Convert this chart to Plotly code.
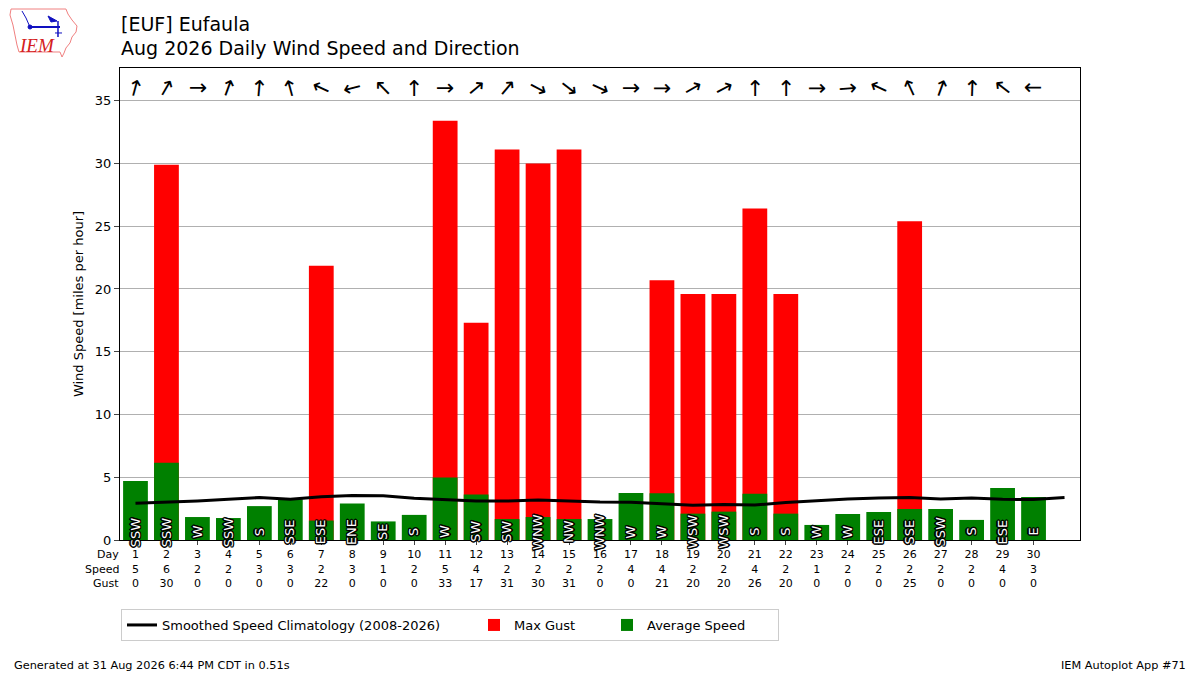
import plotly.graph_objects as go

# daily values
days = list(range(1, 31))
avg_speed = [4.7, 6.15, 1.83, 1.75, 2.7, 3.24, 1.55, 2.9, 1.48, 2.0,
             4.97, 3.62, 1.67, 1.83, 1.67, 1.67, 3.75, 3.72, 2.1, 2.26,
             3.69, 2.1, 1.2, 2.07, 2.23, 2.47, 2.47, 1.6, 4.15, 3.43]
max_gust = [0, 29.9, 0, 0, 0, 0, 21.85, 0, 0, 0,
            33.4, 17.3, 31.1, 30.0, 31.1, 0, 0, 20.7, 19.6, 19.6,
            26.4, 19.6, 0, 0, 0, 25.4, 0, 0, 0, 0]
wind_dir = [195, 210, 270, 200, 185, 165, 115, 75, 135, 180,
            270, 230, 220, 298, 308, 295, 270, 270, 240, 242,
            180, 180, 270, 265, 115, 155, 200, 182, 128, 90]
compass = ["SSW", "SSW", "W", "SSW", "S", "SSE", "ESE", "ENE", "SE", "S",
           "W", "SW", "SW", "WNW", "NW", "WNW", "W", "W", "WSW", "WSW",
           "S", "S", "W", "W", "ESE", "SSE", "SSW", "S", "ESE", "E"]

# smoothed climatology, one value per day of month
clim_days = list(range(1, 32))
clim_speed = [2.92, 3.0, 3.11, 3.24, 3.38, 3.25, 3.45, 3.55, 3.52, 3.33,
              3.22, 3.11, 3.11, 3.18, 3.11, 3.02, 3.0, 2.9, 2.76, 2.82,
              2.79, 2.98, 3.15, 3.27, 3.35, 3.38, 3.27, 3.35, 3.24, 3.22, 3.38]

FONT = "DejaVu Sans"
L, R, T, B = 120, 120, 68, 135
W, H = 1200, 675
PW, PH = W - L - R, H - T - B


def px2paper(x, y):
    # pixel position on the page -> paper coords
    return (x - L) / PW, (H - B - y) / PH


def path_from(points, close=True):
    parts = []
    for i, (x, y) in enumerate(points):
        px, py = px2paper(x, y)
        parts.append(("M" if i == 0 else "L") + f"{px:.4f},{py:.4f}")
    return " ".join(parts) + (" Z" if close else "")


def note(x, y, text, size, anchor="center", **kw):
    ax, ay = px2paper(x, y)
    return dict(x=ax, y=ay, xref="paper", yref="paper", text=text, showarrow=False,
                xanchor=anchor, yanchor="middle",
                font=dict(family=kw.pop("family", FONT), size=size,
                          color=kw.pop("color", "black")), **kw)


fig = go.Figure()

fig.add_trace(go.Bar(x=days, y=max_gust, name="Max Gust", marker_color="#ff0000",
                     marker_line_width=0, width=0.8, legendrank=2, legendwidth=88))
fig.add_trace(go.Bar(x=days, y=avg_speed, name="Average Speed", marker_color="#008000",
                     marker_line_width=0, width=0.8, legendrank=3, legendwidth=126))
fig.add_trace(go.Scatter(x=clim_days, y=clim_speed, mode="lines",
                         name="Smoothed Speed Climatology (2008-2026)",
                         line=dict(color="black", width=3), legendrank=1, legendwidth=307))

# tick labels: day / speed / gust
ticktext = [f"{d}<br>{int(round(s))}<br>{int(round(g))}"
            for d, s, g in zip(days, avg_speed, max_gust)]

annotations = []
# direction arrows across the top
for d, wd in zip(days, wind_dir):
    annotations.append(dict(x=d, y=36.0, xref="x", yref="y", text="↑", showarrow=False,
                            xanchor="center", yanchor="middle",
                            textangle=(wd + 180) % 360,
                            font=dict(family=FONT, size=22, color="black")))
# compass labels inside the bars
outline = ("-1px -1px 0 #000, 1px -1px 0 #000, -1px 1px 0 #000, 1px 1px 0 #000, "
           "0 1.5px 0 #000, 0 -1.5px 0 #000, 1.5px 0 0 #000, -1.5px 0 0 #000")
for d, c in zip(days, compass):
    annotations.append(dict(x=d, y=0.65, xref="x", yref="y", text=c, showarrow=False,
                            xanchor="center", yanchor="middle", textangle=-90,
                            font=dict(family=FONT, size=13, color="white", shadow=outline)))
# row names for the tick table
for label, py in [("Day", 554), ("Speed", 569), ("Gust", 583)]:
    annotations.append(note(121, py, label, 11, anchor="right"))
# titles
annotations.append(note(119, 24, "[EUF] Eufaula", 19, anchor="left"))
annotations.append(note(119, 48, "Aug 2026 Daily Wind Speed and Direction", 19, anchor="left"))
# footer
annotations.append(note(12, 665, "Generated at 31 Aug 2026 6:44 PM CDT in 0.51s", 11.3,
                        anchor="left"))
annotations.append(note(1188, 665, "IEM Autoplot App #71", 11.3, anchor="right"))
# logo text
annotations.append(note(37, 45, "<i>IEM</i>", 19, family="Liberation Serif", color="#d42020"))

# rough IEM logo: state outline + blue station glyph
iowa = [(11, 9), (66, 9), (68, 14), (72, 20), (77, 26), (76, 32), (72, 37), (70, 43),
        (66, 48), (64, 53), (62, 57), (60, 52), (19, 52), (17, 45), (15, 35), (13, 25),
        (10, 15)]
blue = "#1010c0"
shapes = [
    dict(type="path", xref="paper", yref="paper", path=path_from(iowa),
         line=dict(color="#f08080", width=1), fillcolor="rgba(0,0,0,0)"),
    dict(type="path", xref="paper", yref="paper",
         path=path_from([(30, 27), (60, 27)], close=False), line=dict(color=blue, width=2)),
    dict(type="path", xref="paper", yref="paper",
         path=path_from([(58, 21), (58, 37)], close=False), line=dict(color=blue, width=1.5)),
    dict(type="path", xref="paper", yref="paper",
         path=path_from([(48, 16), (57, 21), (51, 22)]),
         line=dict(color=blue, width=1), fillcolor=blue),
    dict(type="path", xref="paper", yref="paper",
         path=path_from([(22, 11), (26, 18), (30, 27)], close=False),
         line=dict(color=blue, width=1)),
    dict(type="path", xref="paper", yref="paper",
         path=path_from([(55, 33), (62, 33)], close=False), line=dict(color=blue, width=1)),
]
cx0, cy0 = px2paper(28, 25)
cx1, cy1 = px2paper(32, 29)
shapes.append(dict(type="circle", xref="paper", yref="paper", x0=cx0, y0=cy1, x1=cx1, y1=cy0,
                   fillcolor=blue, line=dict(color=blue, width=1)))

lgx, lgy = px2paper(121, 609)
fig.update_layout(
    width=W, height=H,
    margin=dict(l=L, r=R, t=T, b=B),
    paper_bgcolor="white", plot_bgcolor="white",
    barmode="overlay", bargap=0.2,
    font=dict(family=FONT, size=13, color="black"),
    showlegend=True,
    legend=dict(orientation="h", x=lgx, xanchor="left", y=lgy, yanchor="top",
                bordercolor="#cccccc", borderwidth=1, bgcolor="white",
                font=dict(family=FONT, size=13), traceorder="normal"),
    annotations=annotations,
    shapes=shapes,
)
fig.update_xaxes(range=[0.5, 31.5], tickmode="array", tickvals=days, ticktext=ticktext,
                 tickfont=dict(family=FONT, size=11), ticks="outside", ticklen=4,
                 showgrid=False, zeroline=False, showline=True, mirror=True,
                 linecolor="black", linewidth=1)
fig.update_yaxes(range=[0, 37.6], dtick=5, tick0=0, ticks="outside", ticklen=5,
                 tickfont=dict(family=FONT, size=13), showgrid=True, gridcolor="#b0b0b0",
                 gridwidth=1, zeroline=False, showline=True, mirror=True,
                 linecolor="black", linewidth=1,
                 title=dict(text="Wind Speed [miles per hour]", font=dict(family=FONT, size=13),
                            standoff=8))

# drop the browser's default body margin so the figure sits at the page origin
fig.write_html("out.html", config={"displayModeBar": False},
               post_script="document.body.style.margin='0';")
